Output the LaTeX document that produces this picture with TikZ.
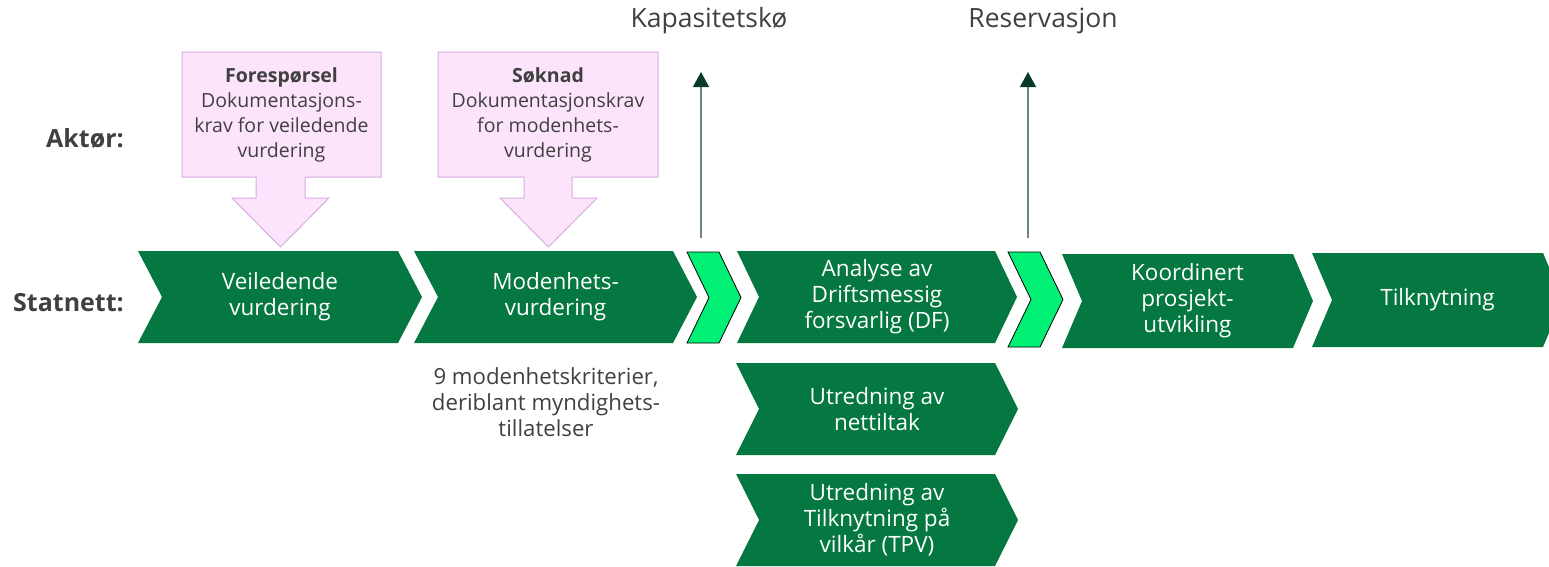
\documentclass[tikz,border=0pt]{standalone}
\usepackage{fontspec}
\setmainfont{Open Sans}
\usetikzlibrary{arrows.meta}
\definecolor{dkgreen}{RGB}{4,120,64}
\definecolor{brgreen}{RGB}{0,240,118}
\definecolor{pinkfill}{RGB}{252,228,252}
\definecolor{pinkline}{RGB}{216,172,226}
\definecolor{txtgray}{RGB}{64,64,64}
\definecolor{arrdark}{RGB}{10,58,44}
\definecolor{arrline}{RGB}{110,133,128}
\newcommand\chev[8]{%
  \pgfmathsetmacro\cmid{(#4+#5)/2}%
  \path[#7] (#2,#4) -- (#3,#4) -- ({#3+#6},\cmid) -- (#3,#5) -- (#2,#5) -- ({#2+#6},\cmid) -- cycle;%
  \node[chevtext] (#1) at ({(#2+#3+#6)/2},\cmid) {#8};%
}
\newcommand\callout[9]{% name, left, right, top, bottom, stemL, stemR, headL, headR
  \pgfmathsetmacro\cx{(#8+#9)/2}%
  \path[calloutbox] (#2,#4) -- (#3,#4) -- (#3,#5) -- (#7,#5) -- (#7,198) -- (#9,198)
    -- (\cx,247) -- (#8,198) -- (#6,198) -- (#6,#5) -- (#2,#5) -- cycle;%
}
\begin{document}
\begin{tikzpicture}[x=1pt,y=-1pt,
  darkchev/.style={fill=dkgreen},
  brightchev/.style={fill=brgreen,draw=black,line width=0.8pt,line join=miter},
  chevtext/.style={text=white,align=center,inner sep=0pt,font=\fontsize{22.5}{26}\selectfont},
  calloutbox/.style={fill=pinkfill,draw=pinkline,line width=1pt},
  callouttext/.style={text=txtgray,align=center,inner sep=0pt,font=\fontsize{19.5}{25}\selectfont},
  toplabel/.style={text=txtgray,inner sep=0pt,font=\fontsize{26.5}{30}\selectfont},
  sidelabel/.style={text=txtgray,inner sep=0pt,anchor=east,font=\fontsize{25}{30}\selectfont\bfseries},
  notetext/.style={text=txtgray,align=center,inner sep=0pt,font=\fontsize{22.2}{26}\selectfont},
  uparrow/.style={draw=arrline,line width=1.3pt,-{Triangle[width=16pt,length=15pt,color=arrdark,fill=arrdark]}}
]
\useasboundingbox (0,0) rectangle (1549,566);
\clip (0,0) rectangle (1549,566);

% side labels
\node[sidelabel] (aktor) at (124,138) {Aktør:};
\node[sidelabel] (statnett) at (124,303) {Statnett:};

% main row
\chev{veil}{138}{398}{251}{343}{24}{darkchev}{Veiledende\\vurdering}
\chev{moden}{414}{673}{251}{343}{24}{darkchev}{Modenhets-\\vurdering}
\chev{bright1}{687}{719}{252}{343}{22}{brightchev}{}
\chev{df}{737}{995}{251}{343}{22}{darkchev}{Analyse av\\Driftsmessig\\forsvarlig (DF)}
\chev{bright2}{1008}{1040}{252}{347}{23}{brightchev}{}
\chev{koord}{1062}{1293}{254}{348}{20}{darkchev}{Koordinert\\prosjekt-\\utvikling}
\chev{tilk}{1312}{1543}{253}{347}{20}{darkchev}{Tilknytning}

% parallel studies
\chev{nett}{736}{995}{363}{455}{23}{darkchev}{Utredning av\\nettiltak}
\chev{tpv}{736}{995}{474}{566}{23}{darkchev}{Utredning av\\Tilknytning på\\vilkår (TPV)}

% callouts
\callout{c1}{182}{381}{52}{177}{256}{305}{232}{329}
\node[callouttext] (foresp) at (281.5,115) {\textbf{Forespørsel}\\Dokumentasjons-\\krav for veiledende\\vurdering};
\callout{c2}{438}{658}{52}{177}{524}{572}{500}{597}
\node[callouttext] (soknad) at (548,115) {\textbf{Søknad}\\Dokumentasjonskrav\\for modenhets-\\vurdering};

% note
\node[notetext] (note) at (546,402) {9 modenhetskriterier,\\deriblant myndighets-\\tillatelser};

% milestones
\node[toplabel] (kq) at (709,21) {Kapasitetskø};
\node[toplabel] (res) at (1043,21) {Reservasjon};
\coordinate (kqbot) at (701,238);
\coordinate (kqtop) at (701,72);
\coordinate (resbot) at (1028,238);
\coordinate (restop) at (1028,72);
\draw[uparrow] (kqbot) -- (kqtop);
\draw[uparrow] (resbot) -- (restop);
\end{tikzpicture}
\end{document}
